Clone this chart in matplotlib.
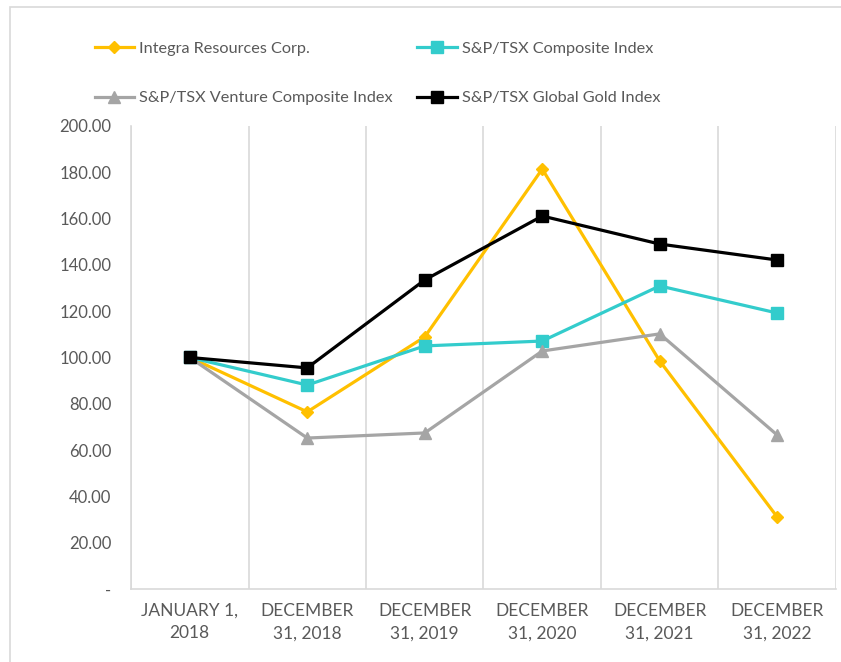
import numpy as np
import matplotlib.pyplot as plt
from matplotlib.ticker import FuncFormatter, MultipleLocator

plt.rcParams['font.family'] = ['Lato', 'DejaVu Sans']

# data
DATES = ["JANUARY 1,\n2018", "DECEMBER\n31, 2018", "DECEMBER\n31, 2019",
         "DECEMBER\n31, 2020", "DECEMBER\n31, 2021", "DECEMBER\n31, 2022"]
INTEGRA = [100.0, 76.5, 108.9, 181.4, 98.5, 31.1]
COMPOSITE = [100.0, 88.1, 105.0, 107.1, 130.9, 119.2]
VENTURE = [100.0, 65.2, 67.4, 102.8, 110.2, 66.5]
GOLD = [100.0, 95.5, 133.5, 161.1, 149.0, 142.1]

x = np.arange(len(DATES))

fig = plt.figure(figsize=(8.41, 6.62), dpi=100)
ax = fig.add_axes([0.1558, 0.1103, 0.8382, 0.6994])

grid_col = "#D9D9D9"
text_col = "#595959"

l1, = ax.plot(x, INTEGRA, color="#FFC000", lw=2.3, marker="D", ms=6, label="Integra Resources Corp.")
l2, = ax.plot(x, COMPOSITE, color="#33CCCC", lw=2.3, marker="s", ms=8, label="S&P/TSX Composite Index")
l3, = ax.plot(x, VENTURE, color="#A5A5A5", lw=2.3, marker="^", ms=8, label="S&P/TSX Venture Composite Index")
l4, = ax.plot(x, GOLD, color="black", lw=2.3, marker="s", ms=8, label="S&P/TSX Global Gold Index")

ax.set_xlim(-0.5, len(DATES) - 0.5)
ax.set_ylim(0, 200)
ax.yaxis.set_major_locator(MultipleLocator(20))
ax.yaxis.set_major_formatter(FuncFormatter(lambda v, p: "-" if v == 0 else "%.2f" % v))

ax.set_xticks(x)
ax.set_xticklabels(DATES, linespacing=1.5)
ax.set_xticks(np.arange(-0.5, len(DATES)), minor=True)
ax.grid(True, axis="x", which="minor", color=grid_col, lw=1.2)
ax.tick_params(axis="both", which="both", length=0, labelsize=12, colors=text_col)
ax.tick_params(axis="x", pad=10)
ax.tick_params(axis="y", pad=14)
for lab in ax.get_xticklabels():
    lab.set_fontsize(12.5)

for side in ["top", "right"]:
    ax.spines[side].set_visible(False)
ax.spines["left"].set_color(grid_col)
ax.spines["bottom"].set_color(grid_col)
ax.spines["left"].set_linewidth(1.2)
ax.spines["bottom"].set_linewidth(1.2)

leg = fig.legend([l1, l3, l2, l4], [l1.get_label(), l3.get_label(), l2.get_label(), l4.get_label()],
                 ncol=2, loc="center left", bbox_to_anchor=(0.095, 0.889), frameon=False,
                 fontsize=11.7, handlelength=2.45, handletextpad=0.3, columnspacing=1.5,
                 labelspacing=2.15, labelcolor=text_col)

# outer chart border
fig.add_artist(plt.Rectangle((0.012, -0.01), 1.0, 1.0 - 0.001, transform=fig.transFigure,
                             fill=False, edgecolor=grid_col, lw=1.2))

fig.savefig("out.png", dpi=100)
